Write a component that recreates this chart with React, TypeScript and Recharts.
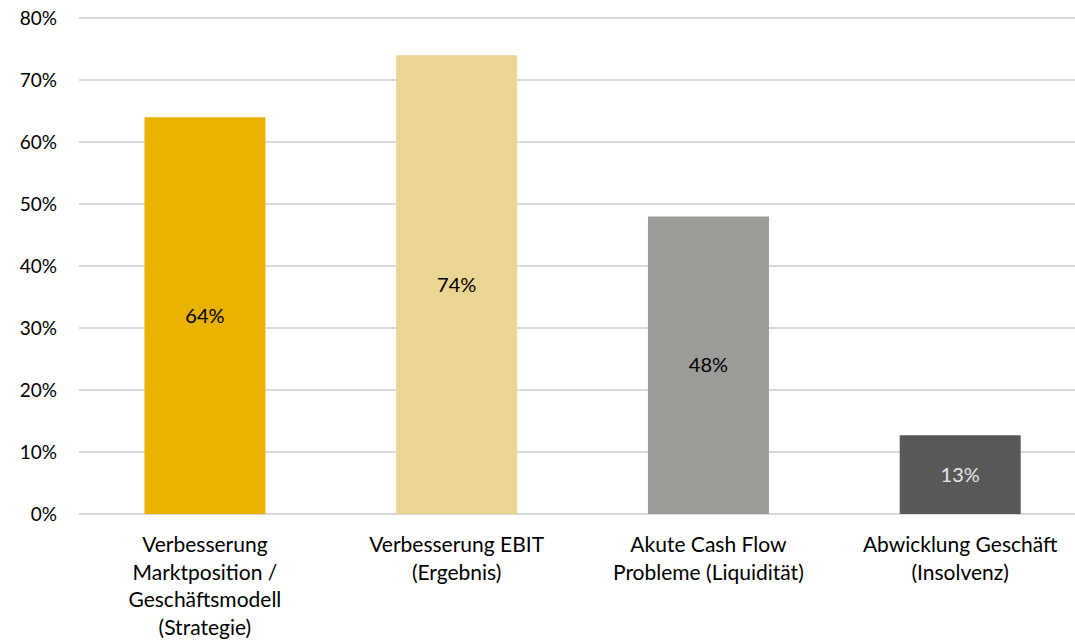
import { BarChart, Bar, XAxis, YAxis, CartesianGrid, Cell, LabelList } from "recharts";

const categories = [
  "Verbesserung Marktposition / Geschäftsmodell (Strategie)",
  "Verbesserung EBIT (Ergebnis)",
  "Akute Cash Flow Probleme (Liquidität)",
  "Abwicklung Geschäft (Insolvenz)",
];

// how each category label wraps, as in the original
const categoryLines = [
  ["Verbesserung", "Marktposition /", "Geschäftsmodell", "(Strategie)"],
  ["Verbesserung EBIT", "(Ergebnis)"],
  ["Akute Cash Flow", "Probleme (Liquidität)"],
  ["Abwicklung Geschäft", "(Insolvenz)"],
];

const values = [64, 74, 48, 12.7];
const valueLabels = ["64%", "74%", "48%", "13%"];
const yTicks = [0, 10, 20, 30, 40, 50, 60, 70, 80];

const barColors = ["#E9B200", "#EBD592", "#9C9B97", "#585858"];
const labelColors = ["#000000", "#000000", "#000000", "#E6E6E6"];

const data = categories.map((name, i) => ({
  name,
  value: values[i],
  label: valueLabels[i],
  idx: i,
}));

const FONT = "Lato, 'Open Sans', sans-serif";

function CategoryTick(props: any) {
  const { x, y, index } = props;
  const lines = categoryLines[index] || [];
  return (
    <g transform={`translate(${x},${y})`}>
      {lines.map((line, i) => (
        <text
          key={i}
          x={0}
          y={30 + i * 27.5}
          textAnchor="middle"
          fill="#000"
          fontSize={21}
          fontFamily={FONT}
        >
          {line}
        </text>
      ))}
    </g>
  );
}

function ValueLabel(props: any) {
  const { x, y, width, height, index } = props;
  return (
    <text
      x={x + width / 2}
      y={y + height / 2 + 7}
      textAnchor="middle"
      fill={labelColors[index]}
      fontSize={20}
      fontFamily={FONT}
    >
      {valueLabels[index]}
    </text>
  );
}

export default function App() {
  return (
    <div
      style={{
        position: "absolute",
        left: 0,
        top: 0,
        width: 1075,
        height: 643,
        overflow: "hidden",
        background: "#fff",
      }}
    >
      <BarChart
        width={1086}
        height={643}
        data={data}
        margin={{ top: 18, right: 0, bottom: 0, left: 0 }}
        barCategoryGap="26%"
      >
        <CartesianGrid vertical={false} stroke="#D9D9D9" strokeWidth={2} />
        <XAxis
          dataKey="name"
          axisLine={false}
          tickLine={false}
          interval={0}
          tick={<CategoryTick />}
          height={129}
        />
        <YAxis
          domain={[0, 80]}
          ticks={yTicks}
          axisLine={false}
          tickLine={false}
          tickSize={20}
          tickMargin={2}
          width={79}
          interval={0}
          tickFormatter={(v: number) => `${v}%`}
          tick={{ fill: "#000", fontSize: 19, fontFamily: FONT }}
        />
        <Bar dataKey="value" isAnimationActive={false}>
          {data.map((d) => (
            <Cell key={d.idx} fill={barColors[d.idx]} />
          ))}
          <LabelList dataKey="label" content={<ValueLabel />} />
        </Bar>
      </BarChart>
    </div>
  );
}
